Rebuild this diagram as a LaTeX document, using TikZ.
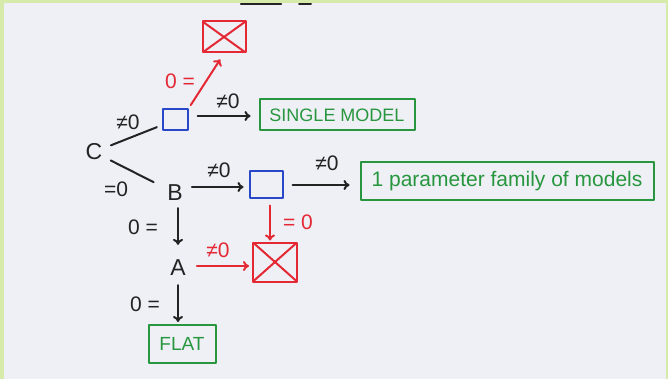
\documentclass[tikz,border=0pt]{standalone}
\usepackage{fontspec}
\setmainfont{Liberation Sans}
\usetikzlibrary{calc,arrows.meta}

\definecolor{paper}{RGB}{238,240,246}
\definecolor{frame}{RGB}{214,234,170}
\definecolor{inkblack}{RGB}{35,35,35}
\definecolor{inkred}{RGB}{228,40,52}
\definecolor{inkblue}{RGB}{40,72,200}
\definecolor{inkgreen}{RGB}{40,150,62}

\tikzset{
  pen/.style={line width=2pt, line cap=round, line join=round},
  arr/.style={pen, -{To[length=6pt,width=10pt]}},
  letter/.style={inner sep=1pt, text=inkblack, font=\fontsize{23}{25}\selectfont},
  lbl/.style={inner sep=0pt, font=\fontsize{21}{23}\selectfont},
  bluebox/.style={pen, draw=inkblue, inner sep=0pt},
  crossbox/.style={pen, draw=inkred, inner sep=0pt, path picture={
      \draw[pen, inkred] (path picture bounding box.north west) -- (path picture bounding box.south east)
                         (path picture bounding box.north east) -- (path picture bounding box.south west);}},
  greenbox/.style={pen, draw=inkgreen, text=inkgreen, inner sep=0pt},
}

\begin{document}
\begin{tikzpicture}[x=1pt, y=-1pt]
  % sheet and frame
  \fill[frame] (0,0) rectangle (668,379);
  \fill[paper] (4,3) rectangle (666,379);
  \useasboundingbox (0,0) rectangle (668,379);
  % dark stroke cut off at the top edge
  \draw[line width=2.5pt, inkblack, line cap=round] (241,4) -- (281,4);
  \draw[line width=2pt, inkblack, line cap=round] (299,4) -- (311,4);

  % boxes and letters
  \node[crossbox, minimum width=43pt, minimum height=31pt] (x1) at (224,37) {};
  \node[bluebox, minimum width=25pt, minimum height=21pt] (b1) at (175,120) {};
  \node[greenbox, minimum width=155pt, minimum height=31pt, font=\fontsize{18}{20}\selectfont] (single) at (337,115) {SINGLE MODEL};
  \node[letter] (C) at (94,152) {C};
  \node[letter] (B) at (175,193) {B};
  \node[bluebox, minimum width=33pt, minimum height=27pt] (b2) at (266,185) {};
  \node[greenbox, minimum width=293pt, minimum height=38pt, font=\fontsize{21}{23}\selectfont] (family) at (507,181) {1 parameter family of models};
  \node[crossbox, minimum width=44pt, minimum height=39pt] (x2) at (275,262) {};
  \node[letter] (A) at (178,268) {A};
  \node[greenbox, minimum width=67pt, minimum height=38pt, font=\fontsize{19}{21}\selectfont] (flat) at (182,344) {FLAT};

  % connectors
  \draw[pen, inkblack, shorten <=8pt, shorten >=5pt] (C) -- (b1);
  \draw[pen, inkblack, shorten <=8pt, shorten >=14pt] (C) -- (B);
  \draw[arr, inkred, shorten <=4pt, shorten >=7pt] (b1.north east) -- (x1.south);
  \draw[arr, inkblack, shorten <=9pt, shorten >=8pt] ($(b1.east)+(0,-4)$) -- ($(b1.east -| single.west)+(0,-4)$);
  \draw[arr, inkblack, shorten <=8pt, shorten >=5pt] ($(B.east)+(0,-6)$) -- ($(B.east -| b2.west)+(0,-6)$);
  \draw[arr, inkblack, shorten <=9pt, shorten >=10pt] (b2.east) -- (b2.east -| family.west);
  \draw[arr, inkred, shorten <=6pt, shorten >=1pt] ($(b2.south)+(4,0)$) -- ($(x2.north)+(-5,0)$);
  \draw[arr, inkred, shorten <=10pt, shorten >=3pt] ($(A.east)+(0,-2)$) -- ($(A.east -| x2.west)+(0,-2)$);
  \draw[arr, inkblack, shorten <=6pt, shorten >=14pt] (B.south -| A.north) -- (A.north);
  \draw[arr, inkblack, shorten <=8pt, shorten >=2pt] (A.south) -- (A.south |- flat.north);

  % edge labels
  \node[lbl, text=inkred] (l1) at (180,81) {0 =};
  \node[lbl, text=inkblack] (l2) at (228,101) {≠0};
  \node[lbl, text=inkblack] (l3) at (128,122) {≠0};
  \node[lbl, text=inkblack] (l4) at (116,189) {=0};
  \node[lbl, text=inkblack] (l5) at (219,170) {≠0};
  \node[lbl, text=inkblack] (l6) at (327,163) {≠0};
  \node[lbl, text=inkred] (l7) at (298,222) {= 0};
  \node[lbl, text=inkred] (l8) at (218,250) {≠0};
  \node[lbl, text=inkblack] (l9) at (143,227) {0 =};
  \node[lbl, text=inkblack] (l10) at (145,304) {0 =};
\end{tikzpicture}
\end{document}
